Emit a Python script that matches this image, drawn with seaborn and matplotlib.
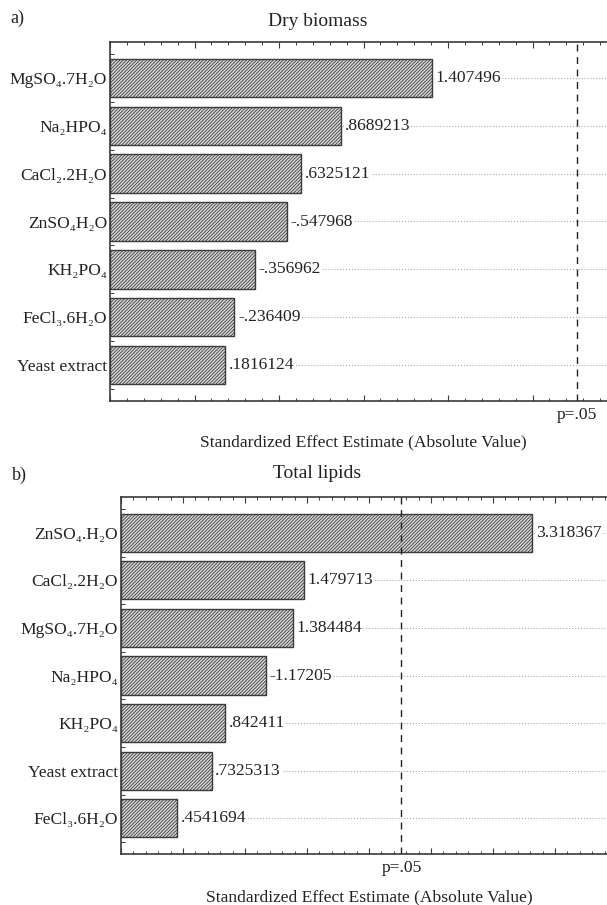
import numpy as np
import pandas as pd
import matplotlib
matplotlib.use("Agg")
import matplotlib.pyplot as plt
import seaborn as sns
from matplotlib.ticker import MultipleLocator, FixedLocator, NullFormatter

sns.set_style("white")
plt.rcParams['font.family'] = ['Liberation Serif', 'DejaVu Serif']
plt.rcParams['hatch.linewidth'] = 0.6

# a) Dry biomass - standardized effects (signed)
biomass_factors = ['MgSO₄.7H₂O', 'Na₂HPO₄', 'CaCl₂.2H₂O', 'ZnSO₄H₂O',
                   'KH₂PO₄', 'FeCl₃.6H₂O', 'Yeast extract']
biomass_effects = [1.407496, 0.8689213, 0.6325121, -0.547968, -0.356962, -0.236409, 0.1816124]

# b) Total lipids
lipid_factors = ['ZnSO₄.H₂O', 'CaCl₂.2H₂O', 'MgSO₄.7H₂O', 'Na₂HPO₄',
                 'KH₂PO₄', 'Yeast extract', 'FeCl₃.6H₂O']
lipid_effects = [3.318367, 1.479713, 1.384484, -1.17205, 0.842411, 0.7325313, 0.4541694]

t_crit = 2.262  # p=.05 critical value
FS = 12.6
DARK = '#3a3a3a'


def pareto(ax, factors, effects, xmin, xmax):
    df = pd.DataFrame({'factor': factors, 'effect': effects})
    df['abs'] = df['effect'].abs()
    sns.barplot(data=df, x='abs', y='factor', orient='h', width=0.8,
                color='#d8d8d8', saturation=1, edgecolor=DARK, linewidth=1.0,
                hatch='//////////', ax=ax, zorder=2)
    # Statistica-style: bars start at the left edge of the axis
    for bar in ax.patches:
        bar.set_width(bar.get_width() - xmin)
        bar.set_x(xmin)

    # value labels
    for v, bar in zip(df['effect'], ax.patches):
        lab = f"{v:.7g}"
        if abs(v) < 1:
            lab = lab.replace('0.', '.', 1)
        ax.annotate(lab, xy=(bar.get_x() + bar.get_width(), bar.get_y() + bar.get_height() / 2),
                    xytext=(2.5, 0), textcoords='offset points', va='center', ha='left',
                    fontsize=FS, color='#222222', zorder=4,
                    bbox=dict(fc='white', ec='none', pad=0.6))

    n = len(factors)
    ax.set_xlim(xmin, xmax)
    ax.set_ylim(n - 0.25, -0.75)
    ax.grid(axis='y', linestyle=':', color='#a8a8a8', linewidth=0.8)
    ax.axvline(t_crit, color='#222222', linestyle=(0, (5, 4)), linewidth=1.0, zorder=3)
    ax.text(t_crit, -0.04, 'p=.05', transform=ax.get_xaxis_transform(),
            ha='center', va='center', fontsize=FS, color='#222222')

    ax.xaxis.set_major_locator(MultipleLocator(0.5))
    ax.xaxis.set_minor_locator(MultipleLocator(0.1))
    ax.xaxis.set_major_formatter(NullFormatter())
    ax.tick_params(axis='x', which='major', direction='in', top=True, bottom=True,
                   length=4, width=0.8, color=DARK)
    ax.tick_params(axis='x', which='minor', direction='in', top=True, bottom=True,
                   length=2.2, width=0.7, color=DARK)
    ax.yaxis.set_minor_locator(FixedLocator(np.arange(-0.5, n, 1.0)))
    ax.tick_params(axis='y', which='major', length=0, pad=2, labelsize=FS, labelcolor='#222222')
    ax.tick_params(axis='y', which='minor', direction='in', left=True, length=3,
                   width=0.7, color=DARK)
    ax.set_xlabel('')
    ax.set_ylabel('')
    for s in ax.spines.values():
        s.set_visible(True)
        s.set_color(DARK)
        s.set_linewidth(1.2)


fig = plt.figure(figsize=(6.07, 9.05), dpi=100)
W, H = 607, 905

ax1 = fig.add_axes([110 / W, 1 - 401 / H, 507 / W, 359 / H])
pareto(ax1, biomass_factors, biomass_effects, -0.5, 2.5)
fig.text(10 / W, 1 - 18 / H, 'a)', fontsize=13, ha='left', va='center', color='#222222')
fig.text(318 / W, 1 - 22 / H, 'Dry biomass', fontsize=14, ha='center', va='center', color='#222222')
fig.text(363.5 / W, 1 - 442 / H, 'Standardized Effect Estimate (Absolute Value)',
         fontsize=FS, ha='center', va='center', color='#222222')

ax2 = fig.add_axes([121 / W, 1 - 854 / H, 496 / W, 357 / H])
pareto(ax2, lipid_factors, lipid_effects, 0, 4)
fig.text(12 / W, 1 - 475 / H, 'b)', fontsize=13, ha='left', va='center', color='#222222')
fig.text(317 / W, 1 - 473 / H, 'Total lipids', fontsize=14, ha='center', va='center', color='#222222')
fig.text(369 / W, 1 - 897 / H, 'Standardized Effect Estimate (Absolute Value)',
         fontsize=FS, ha='center', va='center', color='#222222')

fig.savefig('out.png', dpi=100)
